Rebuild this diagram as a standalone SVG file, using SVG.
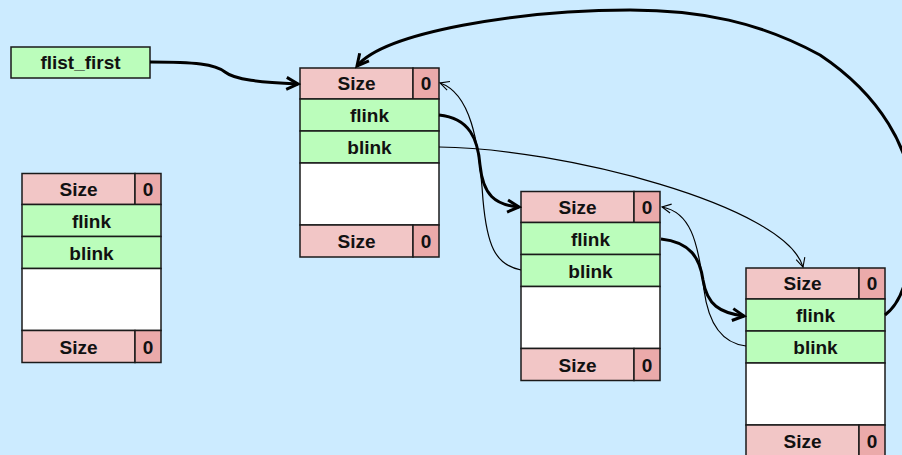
<svg xmlns="http://www.w3.org/2000/svg" width="902" height="455" viewBox="0 0 902 455">
<style>
text{font-family:"Liberation Sans",Arial,sans-serif;font-weight:bold;font-size:19px;fill:#111;text-anchor:middle}
.sz{fill:#F2C6C6;stroke:#1a1a1a;stroke-width:1.5}
.z{fill:#EBAAAA;stroke:#1a1a1a;stroke-width:1.5}
.g{fill:#BBFDBB;stroke:#1a1a1a;stroke-width:1.5}
.w{fill:#FFFFFF;stroke:#1a1a1a;stroke-width:1.5}
.thick{fill:none;stroke:#000;stroke-width:3}
.thin{fill:none;stroke:#000;stroke-width:1.2}
</style>
<defs>
<marker id="ah" markerUnits="userSpaceOnUse" viewBox="0 0 16 16" refX="13" refY="8" markerWidth="16" markerHeight="16" orient="auto">
<path d="M1.5,2 L13,8 L1.5,14" fill="none" stroke="#000" stroke-width="3"/>
</marker>
<marker id="at" markerUnits="userSpaceOnUse" viewBox="0 0 12 12" refX="10" refY="6" markerWidth="12" markerHeight="12" orient="auto">
<path d="M1,1.5 L10,6 L1,10.5" fill="none" stroke="#000" stroke-width="1.1"/>
</marker>
<g id="blk">
<rect class="sz" x="0" y="0" width="113" height="31"/>
<rect class="z" x="113" y="0" width="26" height="31"/>
<rect class="g" x="0" y="31" width="139" height="32"/>
<rect class="g" x="0" y="63" width="139" height="32"/>
<rect class="w" x="0" y="95" width="139" height="62"/>
<rect class="sz" x="0" y="157" width="113" height="32"/>
<rect class="z" x="113" y="157" width="26" height="32"/>
<text x="56.5" y="22">Size</text>
<text x="126" y="22">0</text>
<text x="69.5" y="54">flink</text>
<text x="69.5" y="86">blink</text>
<text x="56.5" y="180">Size</text>
<text x="126" y="180">0</text>
</g>
</defs>
<rect x="0" y="0" width="902" height="455" fill="#CCEBFF"/>
<g id="flist_first">
<rect class="g" x="11" y="47" width="139" height="31"/>
<text x="80.5" y="69">flist_first</text>
</g>
<g id="free_block_left" transform="translate(22,173.5)"><use href="#blk"/></g>
<g id="block1" transform="translate(300,68)"><use href="#blk"/></g>
<g id="block2" transform="translate(521,191.5)"><use href="#blk"/></g>
<g id="block3" transform="translate(746,268)"><use href="#blk"/></g>
<g id="connectors">
<path class="thick" marker-end="url(#ah)" d="M150,62 C195,62 215,64 225,72 C235,80 260,82 298,84"/>
<path class="thick" marker-end="url(#ah)" d="M885,315 C905,300 912,270 912,200 C912,150 880,95 820,55 C760,22 700,10 630,10 C520,10 385,32 357,66"/>
<path class="thick" marker-end="url(#ah)" d="M439,115 C470,118 478,140 480,165 C483,195 495,205 519,207"/>
<path class="thick" marker-end="url(#ah)" d="M661,239 C690,242 700,258 703,280 C707,305 720,313 744,316"/>
<path class="thin" marker-end="url(#at)" d="M439,147 C560,148 785,205 803,267"/>
<path class="thin" marker-end="url(#at)" d="M521,270 C495,265 487,245 483,200 C479,140 470,93 440,83"/>
<path class="thin" marker-end="url(#at)" d="M746,346 C720,343 708,320 704,290 C698,240 690,212 662,207"/>
</g>
</svg>
